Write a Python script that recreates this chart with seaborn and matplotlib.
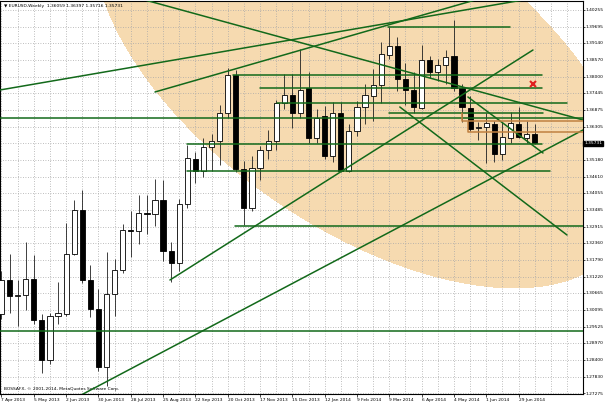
import matplotlib
matplotlib.use("Agg")
import numpy as np
import pandas as pd
import seaborn as sns
from matplotlib import pyplot as plt
from matplotlib.transforms import blended_transform_factory

# weekly EURUSD bars, bar 0 = week of 7 Apr 2013
OPEN = [1.2995, 1.3110, 1.3055, 1.3060, 1.3115, 1.2975, 1.2840, 1.2990, 1.2995, 1.3200,
        1.3348, 1.3110, 1.3011, 1.2815, 1.3062, 1.3143, 1.3280, 1.3277, 1.3336, 1.3334,
        1.3382, 1.3209, 1.3168, 1.3368, 1.3520, 1.3481, 1.3560, 1.3580, 1.3678, 1.3804,
        1.3488, 1.3355, 1.3491, 1.3552, 1.3583, 1.3709, 1.3736, 1.3675, 1.3760, 1.3593,
        1.3665, 1.3532, 1.3678, 1.3481, 1.3617, 1.3698, 1.3733, 1.3770, 1.3872, 1.3903,
        1.3790, 1.3753, 1.3695, 1.3855, 1.3814, 1.3838, 1.3870, 1.3760, 1.3695, 1.3624,
        1.3630, 1.3640, 1.3539, 1.3590, 1.3640, 1.3590, 1.36059]
HIGH = [1.3140, 1.3200, 1.3110, 1.3240, 1.3195, 1.2995, 1.3000, 1.3105, 1.3305, 1.3380,
        1.3416, 1.3160, 1.3080, 1.3205, 1.3180, 1.3300, 1.3345, 1.3400, 1.3400, 1.3452,
        1.3450, 1.3240, 1.3385, 1.3568, 1.3545, 1.3590, 1.3605, 1.3705, 1.3830, 1.3822,
        1.3515, 1.3530, 1.3565, 1.3620, 1.3720, 1.3810, 1.3810, 1.3893, 1.3815, 1.3690,
        1.3700, 1.3712, 1.3712, 1.3640, 1.3716, 1.3773, 1.3825, 1.3917, 1.3968, 1.3935,
        1.3845, 1.3814, 1.3906, 1.3870, 1.3860, 1.3889, 1.3993, 1.3775, 1.3735, 1.3646,
        1.3676, 1.3650, 1.3645, 1.3680, 1.3697, 1.3650, 1.36397]
LOW = [1.2980, 1.2998, 1.2955, 1.3010, 1.2960, 1.2795, 1.2825, 1.2960, 1.2990, 1.3195,
       1.3100, 1.2985, 1.2803, 1.2750, 1.2990, 1.3135, 1.3190, 1.3232, 1.3265, 1.3294,
       1.3174, 1.3105, 1.3140, 1.3355, 1.3440, 1.3460, 1.3480, 1.3500, 1.3660, 1.3478,
       1.3296, 1.3345, 1.3450, 1.3520, 1.3550, 1.3690, 1.3625, 1.3660, 1.3575, 1.3575,
       1.3520, 1.3510, 1.3475, 1.3476, 1.3600, 1.3640, 1.3650, 1.3709, 1.3860, 1.3750,
       1.3705, 1.3676, 1.3690, 1.3795, 1.3785, 1.3775, 1.3750, 1.3645, 1.3615, 1.3585,
       1.3507, 1.3510, 1.3517, 1.3575, 1.3590, 1.3575, 1.35716]
CLOSE = [1.3110, 1.3055, 1.3060, 1.3115, 1.2975, 1.2840, 1.2990, 1.2998, 1.3200, 1.3348,
         1.3110, 1.3011, 1.2815, 1.3062, 1.3143, 1.3280, 1.3277, 1.3336, 1.3334, 1.3382,
         1.3209, 1.3168, 1.3368, 1.3525, 1.3481, 1.3560, 1.3580, 1.3678, 1.3804, 1.3488,
         1.3355, 1.3491, 1.3552, 1.3583, 1.3709, 1.3736, 1.3675, 1.3755, 1.3593, 1.3661,
         1.3532, 1.3678, 1.3481, 1.3617, 1.3698, 1.3736, 1.3770, 1.3876, 1.3903, 1.3790,
         1.3753, 1.3697, 1.3855, 1.3814, 1.3838, 1.3865, 1.3760, 1.3697, 1.3622, 1.3630,
         1.3642, 1.3537, 1.3595, 1.3642, 1.3595, 1.3605, 1.35731]

DATE_TICKS = list(range(0, 65, 4))
DATE_LABELS = ["7 Apr 2013", "5 May 2013", "2 Jun 2013", "30 Jun 2013", "28 Jul 2013",
               "25 Aug 2013", "22 Sep 2013", "20 Oct 2013", "17 Nov 2013", "15 Dec 2013",
               "12 Jan 2014", "9 Feb 2014", "9 Mar 2014", "6 Apr 2014", "4 May 2014",
               "1 Jun 2014", "29 Jun 2014"]
PRICE_TICKS = [1.40255, 1.39695, 1.39140, 1.38570, 1.38000, 1.37445, 1.36875, 1.36305,
               1.35750, 1.35180, 1.34610, 1.34055, 1.33485, 1.32915, 1.32360, 1.31790,
               1.31220, 1.30665, 1.30095, 1.29525, 1.28970, 1.28400, 1.27830, 1.27275]
PRICE_LABELS = ["1.40255", "1.39695", "1.39140", "1.38570", "1.38000", "1.37445", "1.36875",
                "1.36305", "", "1.35180", "1.34610", "1.34055", "1.33485", "1.32915",
                "1.32360", "1.31790", "1.31220", "1.30665", "1.30095", "1.29525", "1.28970",
                "1.28400", "1.27830", "1.27275"]

# horizontal levels: start bar, end bar, price
HLINE_START = [-1.0, -1.0, 47.8, 28.65, 32.0, 34.1, 48.0, 22.96, 22.96, 28.9]
HLINE_END = [73.0, 73.0, 62.9, 66.9, 66.9, 70.0, 67.0, 66.9, 67.9, 73.0]
HLINE_PRICE = [1.36595, 1.29377, 1.39679, 1.38052, 1.37612, 1.37103, 1.36764, 1.35714,
               1.34799, 1.32935]

# trend lines: (bar, price) -> (bar, price)
TREND_X0 = [12.2, -0.19, 19.0, 20.85, 9.5, 49.3, 57.73]
TREND_P0 = [1.41011, 1.37544, 1.37476, 1.31105, 1.27155, 1.36968, 1.37307]
TREND_X1 = [72.0, 70.0, 62.0, 65.78, 71.97, 69.99, 67.02]
TREND_P1 = [1.36526, 1.40851, 1.40860, 1.38899, 1.36188, 1.32630, 1.35409]

# brown step levels: bar, upper price, level price
STEP_X = [56.99, 57.73]
STEP_TOP = [1.36764, 1.36459]
STEP_LEVEL = [1.36493, 1.36120]

# points read along the visible edge of the shaded ellipse
EDGE_BAR = [12.56, 15.90, 19.62, 24.57, 26.18, 32.86, 36.94, 43.13, 49.32, 54.64,
            62.93, 70.73]
EDGE_PRICE = [1.40594, 1.38798, 1.37374, 1.35951, 1.35578, 1.33816, 1.33172, 1.32359,
              1.31715, 1.31139, 1.30868, 1.31105]
INSIDE_BAR, INSIDE_PRICE = 60.0, 1.39

MARK_X, MARK_P = 65.8, 1.3775

GREEN = "#12691a"
BROWN = "#c08040"
TAN = "#f6dab0"
FS = 3.2

sns.set_theme(style="white")
plt.rcParams["font.family"] = ["DejaVu Sans"]

bars = pd.DataFrame({"open": OPEN, "high": HIGH, "low": LOW, "close": CLOSE})
bars["idx"] = np.arange(len(bars))
bars["bull"] = bars["close"] >= bars["open"]

fig = plt.figure(figsize=(6.05, 4.03), dpi=100)
ax = fig.add_axes([0.0008, 0.0223, 0.9628, 0.9740])
ax.set_xlim(-0.124, 71.97)
ax.set_ylim(1.27241, 1.40543)


def conic(u, v, c):
    return c[0] * u * u + c[1] * u * v + c[2] * v * v + c[3] * u + c[4] * v + c[5]


# fit a conic through the traced edge (scaled units) and fill its inside
eu = np.asarray(EDGE_BAR) / 72.0
ev = (np.asarray(EDGE_PRICE) - 1.27) / 0.135
design = np.column_stack([eu * eu, eu * ev, ev * ev, eu, ev, np.ones_like(eu)])
coef = np.linalg.svd(design)[2][-1]
if conic(INSIDE_BAR / 72.0, (INSIDE_PRICE - 1.27) / 0.135, coef) > 0:
    coef = -coef
gx, gy = np.meshgrid(np.linspace(-1, 73, 800), np.linspace(1.27, 1.41, 800))
field = conic(gx / 72.0, (gy - 1.27) / 0.135, coef)
ax.contourf(gx, gy, field, levels=[field.min() - 1, 0], colors=[TAN], zorder=0.2)

# grid
ax.set_axisbelow(True)
ax.set_xticks(DATE_TICKS, DATE_LABELS)
ax.set_xticks(range(0, 72, 2), minor=True)
ax.set_yticks(PRICE_TICKS, PRICE_LABELS)
ax.grid(True, which="both", axis="x", color="#a8a8a8", linestyle=(0, (1, 2)), lw=0.6)
ax.grid(True, which="major", axis="y", color="#a8a8a8", linestyle=(0, (1, 2)), lw=0.6)

# candles
ax.vlines(bars["idx"], bars["low"], bars["high"], color="#202020", lw=0.6, zorder=3)
body_low = bars[["open", "close"]].min(axis=1)
body_h = (bars["close"] - bars["open"]).abs().clip(lower=0.00003)
ax.bar(bars["idx"], body_h, width=0.64, bottom=body_low,
       color=np.where(bars["bull"], "white", "black"), edgecolor="black", lw=0.6, zorder=4)

# drawn objects
for x0, x1, p in zip(HLINE_START, HLINE_END, HLINE_PRICE):
    ax.plot([x0, x1], [p, p], color=GREEN, lw=1.1, zorder=5)
for x0, p0, x1, p1 in zip(TREND_X0, TREND_P0, TREND_X1, TREND_P1):
    ax.plot([x0, x1], [p0, p1], color=GREEN, lw=1.1, zorder=5)
for x, top, level in zip(STEP_X, STEP_TOP, STEP_LEVEL):
    ax.plot([x, x, 73], [top, level, level], color=BROWN, lw=1.1, zorder=5)

ax.plot([MARK_X], [MARK_P], marker="x", color="#e02020", ms=4, mew=1.5, zorder=6)

# axes cosmetics
for s in ax.spines.values():
    s.set_color("black")
    s.set_linewidth(0.8)
ax.yaxis.tick_right()
ax.tick_params(axis="y", which="major", right=True, length=1.5, width=0.5, pad=0.6,
               labelsize=FS, colors="black")
ax.tick_params(axis="x", which="major", bottom=True, length=2, width=0.5, pad=1,
               labelsize=FS, colors="black")
ax.tick_params(axis="x", which="minor", bottom=False)
for lbl in ax.get_xticklabels():
    lbl.set_ha("left")

ax.text(0.006, 0.993, "\u25bc EURUSD,Weekly  1.36059 1.36397 1.35716 1.35731",
        transform=ax.transAxes, va="top", ha="left", fontsize=FS, color="black")
ax.text(0.006, 0.008, "BOSSAFX, \u00a9 2001-2014, MetaQuotes Software Corp.",
        transform=ax.transAxes, va="bottom", ha="left", fontsize=FS, color="black")

trans = blended_transform_factory(ax.transAxes, ax.transData)
ax.text(1.002, CLOSE[-1], "1.35731", transform=trans, va="center", ha="left",
        fontsize=FS, color="white", zorder=7,
        bbox=dict(boxstyle="square,pad=0.2", facecolor="black", edgecolor="black"))

fig.savefig("out.png", dpi=100)
